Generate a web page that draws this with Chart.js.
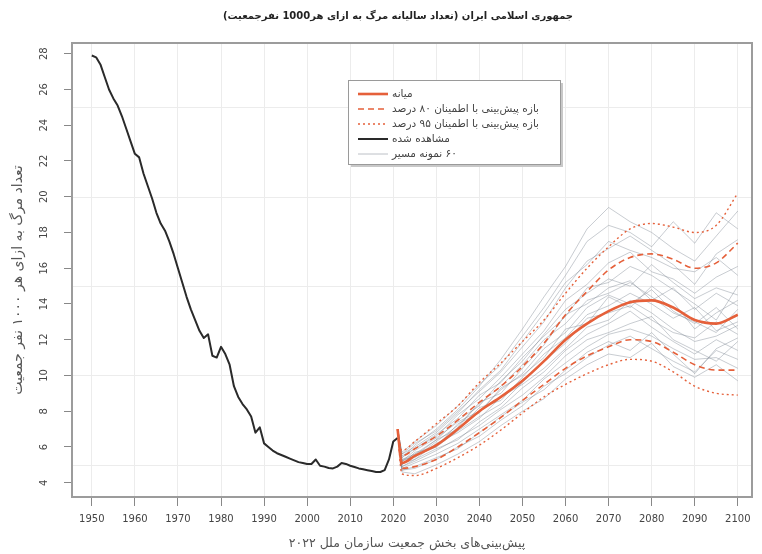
<!DOCTYPE html>
<html>
<head>
<meta charset="utf-8">
<script src="https://cdn.jsdelivr.net/npm/chart.js@4"></script>
<style>
  html, body { margin: 0; padding: 0; background: #fff; }
  #wrap { width: 762px; height: 554px; }
</style>
</head>
<body>
<div id="wrap"><canvas id="myChart" width="762" height="554"></canvas></div>
<script>
let ctx = document.getElementById('myChart').getContext('2d');

// texts
let title = 'جمهوری اسلامی ایران (تعداد سالیانه مرگ به ازای هر1000 نفرجمعیت)';
let xTitle = 'پیش‌بینی‌های بخش جمعیت سازمان ملل ۲۰۲۲';
let yTitle = 'تعداد مرگ به ازای هر ۱۰۰۰ نفر جمعیت';
let legendLabels = ['میانه', 'بازه پیش‌بینی با اطمینان ۸۰ درصد', 'بازه پیش‌بینی با اطمینان ۹۵ درصد', 'مشاهده شده', '۶۰ نمونه مسیر'];

// ticks
let xTicks = [1950,1960,1970,1980,1990,2000,2010,2020,2030,2040,2050,2060,2070,2080,2090,2100];
let yTicks = [4,6,8,10,12,14,16,18,20,22,24,26,28];
let yGrid = [5,10,15,20,25];

// observed
let obsYears = [1950,1951,1952,1953,1954,1955,1956,1957,1958,1959,1960,1961,1962,1963,1964,1965,1966,1967,1968,1969,
  1970,1971,1972,1973,1974,1975,1976,1977,1978,1979,1980,1981,1982,1983,1984,1985,1986,1987,1988,1989,
  1990,1991,1992,1993,1994,1995,1996,1997,1998,1999,2000,2001,2002,2003,2004,2005,2006,2007,2008,2009,
  2010,2011,2012,2013,2014,2015,2016,2017,2018,2019,2020,2021];
let observed = [27.9,27.8,27.4,26.7,26.0,25.5,25.1,24.5,23.8,23.1,22.4,22.2,21.3,20.6,19.9,19.1,18.5,18.1,17.5,16.8,
  16.0,15.2,14.4,13.7,13.1,12.5,12.1,12.3,11.1,11.0,11.6,11.2,10.6,9.4,8.8,8.4,8.1,7.7,6.8,7.1,
  6.2,6.0,5.8,5.65,5.55,5.45,5.35,5.25,5.15,5.1,5.05,5.05,5.3,4.95,4.9,4.82,4.8,4.9,5.1,5.05,
  4.95,4.88,4.8,4.75,4.7,4.65,4.6,4.6,4.7,5.3,6.3,6.5];

// projections
let projYears = [2021,2022,2025,2030,2035,2040,2045,2050,2055,2060,2065,2070,2075,2080,2085,2090,2095,2100];
let median = [7.0,5.1,5.5,6.1,7.0,8.0,8.8,9.7,10.8,12.0,12.9,13.6,14.1,14.2,13.8,13.1,12.9,13.4];
let up80   = [7.0,5.5,5.9,6.6,7.5,8.5,9.4,10.5,11.8,13.4,14.7,15.9,16.6,16.8,16.5,16.0,16.3,17.4];
let lo80   = [7.0,4.8,4.9,5.3,6.0,6.8,7.65,8.6,9.5,10.4,11.1,11.6,12.0,11.9,11.3,10.6,10.3,10.3];
let up95   = [7.0,5.8,6.3,7.3,8.3,9.6,10.7,11.9,13.1,14.6,16.0,17.2,18.2,18.5,18.3,18.0,18.4,20.2];
let lo95   = [7.0,4.5,4.4,4.8,5.4,6.1,6.95,7.9,8.8,9.5,10.1,10.6,10.9,10.8,10.2,9.4,9.0,8.9];

// sample paths (read by eye)
let samplePaths = [
  [7.0,5.2,5.5,6.4,7.0,8.2,8.6,9.9,11.2,12.1,13.4,13.9,14.6,14.0,13.2,13.8,12.5,13.0],
  [7.0,5.6,6.2,6.9,8.0,9.1,10.2,11.6,13.0,14.9,16.4,17.1,17.8,17.0,16.2,15.1,16.8,17.6],
  [7.0,4.7,4.8,5.3,6.0,6.6,7.5,8.3,9.4,10.1,11.0,11.7,12.2,11.5,10.8,10.2,11.4,10.9],
  [7.0,5.0,5.7,6.0,7.3,7.9,9.3,10.0,11.0,12.6,12.9,14.4,13.8,15.0,14.1,12.6,13.5,14.2],
  [7.0,5.4,5.9,6.7,7.6,8.9,9.6,11.0,12.2,13.3,14.9,15.2,16.1,15.6,14.8,14.0,13.1,15.0],
  [7.0,4.9,5.2,5.8,6.5,7.2,8.1,8.9,9.9,11.1,12.0,12.4,12.9,13.3,12.0,11.4,10.8,11.9],
  [7.0,5.3,5.6,6.1,7.1,8.5,9.0,10.4,11.7,13.4,14.0,14.9,15.3,14.2,14.9,13.7,14.6,13.9],
  [7.0,5.1,5.3,6.2,6.8,7.6,8.8,9.5,10.4,11.5,12.7,13.1,14.2,13.5,12.6,11.9,12.2,12.8],
  [7.0,5.7,6.3,7.2,8.3,9.5,10.6,12.2,13.8,15.6,17.5,18.4,18.0,17.2,18.6,17.4,19.1,18.2],
  [7.0,4.6,4.5,5.0,5.6,6.3,7.2,8.0,8.7,9.8,10.6,11.2,11.0,11.8,10.5,9.9,10.6,9.7],
  [7.0,5.2,5.8,6.5,7.4,8.0,9.2,10.1,11.5,12.4,13.8,14.5,14.0,14.8,13.6,12.9,13.8,12.6],
  [7.0,5.5,5.9,6.6,7.8,8.7,9.9,11.2,12.5,14.2,15.1,16.3,16.9,15.8,15.4,14.6,15.5,16.1],
  [7.0,4.8,5.1,5.6,6.2,7.0,7.8,8.6,9.8,10.7,11.6,12.3,12.6,12.2,11.5,10.9,11.0,10.4],
  [7.0,5.3,5.4,6.3,7.2,8.4,9.4,10.6,12.0,12.9,14.2,14.6,15.2,14.4,13.5,13.0,12.4,13.7],
  [7.0,5.0,5.5,6.0,6.9,7.7,8.4,9.6,10.8,11.8,13.2,13.5,13.9,13.1,12.4,12.1,13.0,12.3],
  [7.0,5.6,6.0,6.8,7.9,9.2,10.3,11.9,13.5,15.2,16.2,17.5,17.0,16.6,16.0,15.8,16.6,15.6],
  [7.0,4.9,5.3,5.9,6.4,7.4,8.2,9.3,10.2,11.4,12.3,12.9,13.6,12.7,11.9,11.2,12.0,11.4],
  [7.0,5.2,5.6,6.4,7.5,8.3,9.7,10.8,12.3,13.7,14.6,15.4,15.0,16.2,15.2,14.3,14.9,14.5],
  [7.0,5.4,6.1,7.0,8.1,9.4,10.9,12.6,14.4,16.1,18.2,19.4,18.6,18.0,17.1,16.4,17.8,19.2],
  [7.0,4.7,4.9,5.4,5.9,6.8,7.7,8.5,9.2,10.3,11.3,11.9,11.4,12.4,11.2,10.1,11.5,12.1]
];

let red = '#e5603a';
let fontFa = '"DejaVu Sans", sans-serif';

function pts(xs, ys) {
    return xs.map((x, i) => ({x: x, y: ys[i]}));
}

let datasets = [
    {label: legendLabels[0], data: pts(projYears, median), borderColor: red, borderWidth: 2.6, cubicInterpolationMode: 'monotone'},
    {label: legendLabels[1], data: pts(projYears, up80), borderColor: red, borderWidth: 1.6, borderDash: [6, 4], cubicInterpolationMode: 'monotone'},
    {label: legendLabels[1], data: pts(projYears, lo80), borderColor: red, borderWidth: 1.6, borderDash: [6, 4], cubicInterpolationMode: 'monotone', hideInLegend: true},
    {label: legendLabels[2], data: pts(projYears, up95), borderColor: red, borderWidth: 1.4, borderDash: [2, 3], cubicInterpolationMode: 'monotone'},
    {label: legendLabels[2], data: pts(projYears, lo95), borderColor: red, borderWidth: 1.4, borderDash: [2, 3], cubicInterpolationMode: 'monotone', hideInLegend: true},
    {label: legendLabels[3], data: pts(obsYears, observed), borderColor: '#2a2a2a', borderWidth: 2}
];
samplePaths.forEach((p, i) => {
    datasets.push({label: legendLabels[4], data: pts(projYears, p), borderColor: 'rgba(120,128,140,0.45)', borderWidth: 0.9, hideInLegend: i > 0});
});

// frame, extra grid, rotated y labels, titles and legend
let decor = {
    id: 'decor',
    beforeDatasetsDraw(chart) {
        let c = chart.ctx, a = chart.chartArea, y = chart.scales.y;
        c.save();
        c.strokeStyle = '#ececec';
        c.lineWidth = 1;
        yGrid.forEach(v => {
            let py = Math.round(y.getPixelForValue(v)) + 0.5;
            c.beginPath(); c.moveTo(a.left, py); c.lineTo(a.right, py); c.stroke();
        });
        c.restore();
    },
    afterDraw(chart) {
        let c = chart.ctx, a = chart.chartArea, y = chart.scales.y;
        c.save();
        // frame
        c.strokeStyle = '#9c9c9c';
        c.lineWidth = 2;
        c.strokeRect(a.left, a.top, a.right - a.left, a.bottom - a.top);

        // y tick labels, rotated like R
        c.fillStyle = '#444';
        c.font = '10px "DejaVu Sans", sans-serif';
        c.textAlign = 'center';
        c.textBaseline = 'middle';
        yTicks.forEach(v => {
            c.save();
            c.translate(44, y.getPixelForValue(v));
            c.rotate(-Math.PI / 2);
            c.fillText(String(v), 0, 0);
            c.restore();
        });

        // title
        c.direction = 'rtl';
        c.fillStyle = '#222';
        c.font = 'bold 10px ' + fontFa;
        c.fillText(title, 398, 16);

        // x title
        c.fillStyle = '#555';
        c.font = '12.5px ' + fontFa;
        c.fillText(xTitle, 407, 544);

        // y title
        c.save();
        c.translate(18, 280);
        c.rotate(-Math.PI / 2);
        c.font = '14px ' + fontFa;
        c.fillText(yTitle, 0, 0);
        c.restore();

        // legend
        let bx = 348, by = 80, bw = 212, bh = 84;
        c.fillStyle = '#c8c8c8';
        c.fillRect(bx + 3, by + 3, bw, bh);
        c.fillStyle = '#fff';
        c.fillRect(bx, by, bw, bh);
        c.strokeStyle = '#9a9a9a';
        c.lineWidth = 1;
        c.strokeRect(bx + 0.5, by + 0.5, bw, bh);

        let items = chart.data.datasets.filter(d => !d.hideInLegend);
        items.forEach((d, i) => {
            let ly = by + 14 + i * 15;
            c.save();
            c.strokeStyle = i === 4 ? 'rgba(130,138,150,0.6)' : d.borderColor;
            c.lineWidth = d.borderWidth;
            c.setLineDash(d.borderDash || []);
            c.beginPath(); c.moveTo(bx + 10, ly); c.lineTo(bx + 40, ly); c.stroke();
            c.restore();
            c.fillStyle = '#444';
            c.font = '10.5px ' + fontFa;
            c.direction = 'rtl';
            c.textAlign = 'left';
            c.fillText(d.label, bx + 44, ly);
        });
        c.restore();
    }
};

let chart = new Chart(ctx, {
    type: 'line',
    data: {datasets: datasets},
    options: {
        responsive: false,
        animation: false,
        events: [],
        layout: {padding: {top: 43, right: 10, left: 0, bottom: 0}},
        elements: {point: {radius: 0}, line: {borderJoinStyle: 'round', tension: 0}},
        plugins: {legend: {display: false}, tooltip: {enabled: false}},
        scales: {
            x: {
                type: 'linear',
                min: 1945.4,
                max: 2103.3,
                afterBuildTicks: s => { s.ticks = xTicks.map(v => ({value: v})); },
                afterFit: s => { s.height = 57; },
                border: {display: false},
                grid: {color: '#ececec', tickColor: '#888', tickLength: 9},
                ticks: {
                    color: '#444',
                    font: {family: 'DejaVu Sans', size: 10},
                    padding: 7,
                    maxRotation: 0,
                    autoSkip: false,
                    callback: v => String(v)
                }
            },
            y: {
                type: 'linear',
                min: 3.2,
                max: 28.6,
                afterBuildTicks: s => { s.ticks = yTicks.map(v => ({value: v})); },
                afterFit: s => { s.width = 72; },
                border: {display: false},
                grid: {drawOnChartArea: false, tickColor: '#888', tickLength: 8},
                ticks: {display: false}
            }
        }
    },
    plugins: [decor]
});
</script>
</body>
</html>
